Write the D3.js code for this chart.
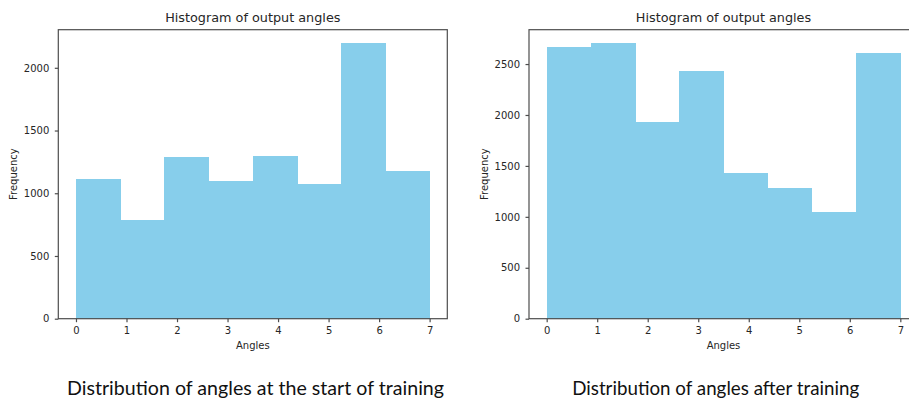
<!DOCTYPE html>
<html>
<head>
<meta charset="utf-8">
<script src="https://cdn.jsdelivr.net/npm/d3@7"></script>
<style>
  body { margin: 0; background: #fff; }
  svg { display: block; }
  .axis text { font-family: "DejaVu Sans", sans-serif; font-size: 10px; fill: #262626; }
  .axis path, .axis line { stroke: #4d4d4d; stroke-width: 1.2; }
  .title { font-family: "DejaVu Sans", sans-serif; font-size: 12.8px; fill: #262626; text-anchor: middle; }
  .label { font-family: "DejaVu Sans", sans-serif; font-size: 10px; fill: #262626; text-anchor: middle; }
  .caption { font-family: Lato, "Open Sans", sans-serif; font-size: 20px; fill: #111; text-anchor: middle; }
</style>
</head>
<body>
<div class="container"></div>
<script>
// histogram bins (same edges for both panels)
const binEdges = [0, 0.875, 1.75, 2.625, 3.5, 4.375, 5.25, 6.125, 7];
const xTicks = [0, 1, 2, 3, 4, 5, 6, 7];

// counts per bin
const countsStart = [1116, 785, 1285, 1100, 1293, 1076, 2194, 1174];
const countsAfter = [2663, 2702, 1934, 2427, 1427, 1287, 1045, 2604];

const yTicksStart = [0, 500, 1000, 1500, 2000];
const yTicksAfter = [0, 500, 1000, 1500, 2000, 2500];

const titleText = 'Histogram of output angles';
const captions = ['Distribution of angles at the start of training', 'Distribution of angles after training'];

const W = 909, H = 398;
const barColor = '#87ceeb';

const svg = d3.select('.container')
    .append('svg')
    .attr('width', W)
    .attr('height', H);

// one histogram panel
function panel(left, counts, yTicks, caption, capWidth, capX) {
    const plotW = 389, top = 29.7, bottom = 318.7;
    const x = d3.scaleLinear().domain([-0.35, 7.35]).range([left, left + plotW]);
    const y = d3.scaleLinear().domain([0, d3.max(counts) * 1.05]).range([bottom, top]);

    const bins = counts.map((c, i) => ({x0: binEdges[i], x1: binEdges[i + 1], count: c}));

    const g = svg.append('g');

    g.append('g')
        .attr('shape-rendering', 'crispEdges')
        .selectAll('rect')
        .data(bins)
        .enter().append('rect')
            .attr('x', d => x(d.x0))
            .attr('y', d => y(d.count))
            .attr('width', d => x(d.x1) - x(d.x0) + 0.5)
            .attr('height', d => y(0) - y(d.count))
            .attr('fill', barColor);

    // frame
    g.append('rect')
        .attr('x', left)
        .attr('y', top)
        .attr('width', plotW)
        .attr('height', bottom - top)
        .attr('fill', 'none')
        .attr('stroke', '#4d4d4d')
        .attr('stroke-width', 1.2);

    const xAxis = d3.axisBottom(x).tickValues(xTicks).tickSize(3.5).tickPadding(5).tickSizeOuter(0);
    const yAxis = d3.axisLeft(y).tickValues(yTicks).tickFormat(d3.format('d'))
        .tickSize(3.5).tickPadding(5.5).tickSizeOuter(0);

    g.append('g')
        .classed('axis', true)
        .attr('transform', 'translate(0,' + bottom + ')')
        .call(xAxis)
        .call(a => a.select('.domain').remove());

    g.append('g')
        .classed('axis', true)
        .attr('transform', 'translate(' + left + ',0)')
        .call(yAxis)
        .call(a => a.select('.domain').remove());

    g.append('text')
        .classed('title', true)
        .attr('x', left + plotW / 2)
        .attr('y', 22.3)
        .text(titleText);

    g.append('text')
        .classed('label', true)
        .attr('x', left + plotW / 2)
        .attr('y', 348.5)
        .text('Angles');

    g.append('text')
        .classed('label', true)
        .attr('transform', 'translate(' + (left - 41.5) + ',' + ((top + bottom) / 2) + ') rotate(-90)')
        .text('Frequency');

    g.append('text')
        .classed('caption', true)
        .attr('x', capX)
        .attr('y', 394.7)
        .attr('textLength', capWidth)
        .attr('lengthAdjust', 'spacingAndGlyphs')
        .text(caption);
}

panel(58.3, countsStart, yTicksStart, captions[0], 377, 255.5);
panel(529, countsAfter, yTicksAfter, captions[1], 287, 715.7);
</script>
</body>
</html>
